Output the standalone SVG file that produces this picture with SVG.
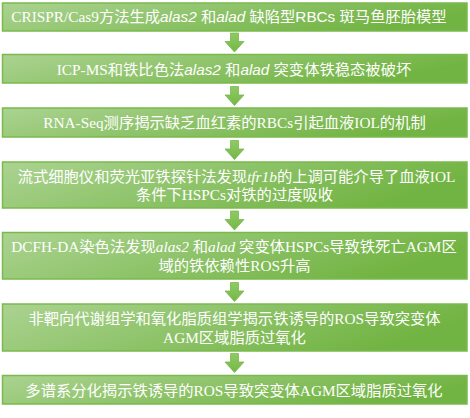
<svg xmlns="http://www.w3.org/2000/svg" xmlns:xlink="http://www.w3.org/1999/xlink" width="470" height="418" viewBox="0 0 470 418">
<defs>
<linearGradient id="g" x1="0" y1="0" x2="1" y2="0.3">
<stop offset="0" stop-color="#abd391"/>
<stop offset="1" stop-color="#72b443"/>
</linearGradient>
<linearGradient id="ga" x1="0" y1="0" x2="0" y2="1">
<stop offset="0" stop-color="#8fca66"/>
<stop offset="1" stop-color="#74b845"/>
</linearGradient>
<path id="arr" d="M230.5,0 H238.5 V8.5 H244 L234.5,19 L225,8.5 H230.5 Z"/>
</defs>
<style>
.box{fill:url(#g);stroke:#7aba4d;stroke-width:1.5}
.t{font-family:"Liberation Serif","Noto Sans CJK SC",serif;font-size:15.3px;fill:#ffffff;text-anchor:middle}
.s{font-family:"Liberation Sans","Noto Sans CJK SC",sans-serif}
.i{font-style:italic}
.arrow{fill:url(#ga);stroke:#7ab84d;stroke-width:0.8}
</style>
<rect width="470" height="418" fill="#ffffff"/>
<g id="connectors">
<use href="#arr" class="arrow" transform="translate(0,33)"/>
<use href="#arr" class="arrow" transform="translate(0,86.5)"/>
<use href="#arr" class="arrow" transform="translate(0,140.5)"/>
<use href="#arr" class="arrow" transform="translate(0,211)"/>
<use href="#arr" class="arrow" transform="translate(0,282.5)"/>
<use href="#arr" class="arrow" transform="translate(0,353.5)"/>
</g>
<g id="n1">
<rect class="box" x="2.5" y="3" width="464.5" height="28"/>
<text class="t" x="229" y="22">CRISPR/Cas9方法生成<tspan class="s i">alas2 </tspan>和<tspan class="s i">alad </tspan>缺陷型<tspan class="s">RBCs </tspan>斑马鱼胚胎模型</text>
</g>
<g id="n2">
<rect class="box" x="2.5" y="54.5" width="464.5" height="28.5"/>
<text class="t" x="234" y="75">ICP-MS和铁比色法<tspan class="s i">alas2 </tspan>和<tspan class="s i">alad </tspan>突变体铁稳态被破坏</text>
</g>
<g id="n3">
<rect class="box" x="2.5" y="108" width="464.5" height="29"/>
<text class="t" x="234.5" y="128">RNA-Seq测序揭示缺乏血红素的RBCs引起血液IOL的机制</text>
</g>
<g id="n4">
<rect class="box" x="2.5" y="162" width="464.5" height="46"/>
<text class="t" x="236.5" y="182">流式细胞仪和荧光亚铁探针法发现<tspan class="i">tfr1b</tspan>的上调可能介导了血液IOL</text>
<text class="t" x="234.5" y="200">条件下HSPCs对铁的过度吸收</text>
</g>
<g id="n5">
<rect class="box" x="2.5" y="232.5" width="464.5" height="46.5"/>
<text class="t" x="234" y="252">DCFH-DA染色法发现<tspan class="i">alas2 </tspan>和<tspan class="i">alad </tspan>突变体HSPCs导致铁死亡AGM区</text>
<text class="t" x="234.5" y="270.5">域的铁依赖性ROS升高</text>
</g>
<g id="n6">
<rect class="box" x="2.5" y="304" width="464.5" height="47"/>
<text class="t" x="234.5" y="324">非靶向代谢组学和氧化脂质组学揭示铁诱导的ROS导致突变体</text>
<text class="t" x="234.5" y="342.5">AGM区域脂质过氧化</text>
</g>
<g id="n7">
<rect class="box" x="2.5" y="375.5" width="464.5" height="28.5"/>
<text class="t" x="234" y="395.5">多谱系分化揭示铁诱导的ROS导致突变体AGM区域脂质过氧化</text>
</g>
</svg>
